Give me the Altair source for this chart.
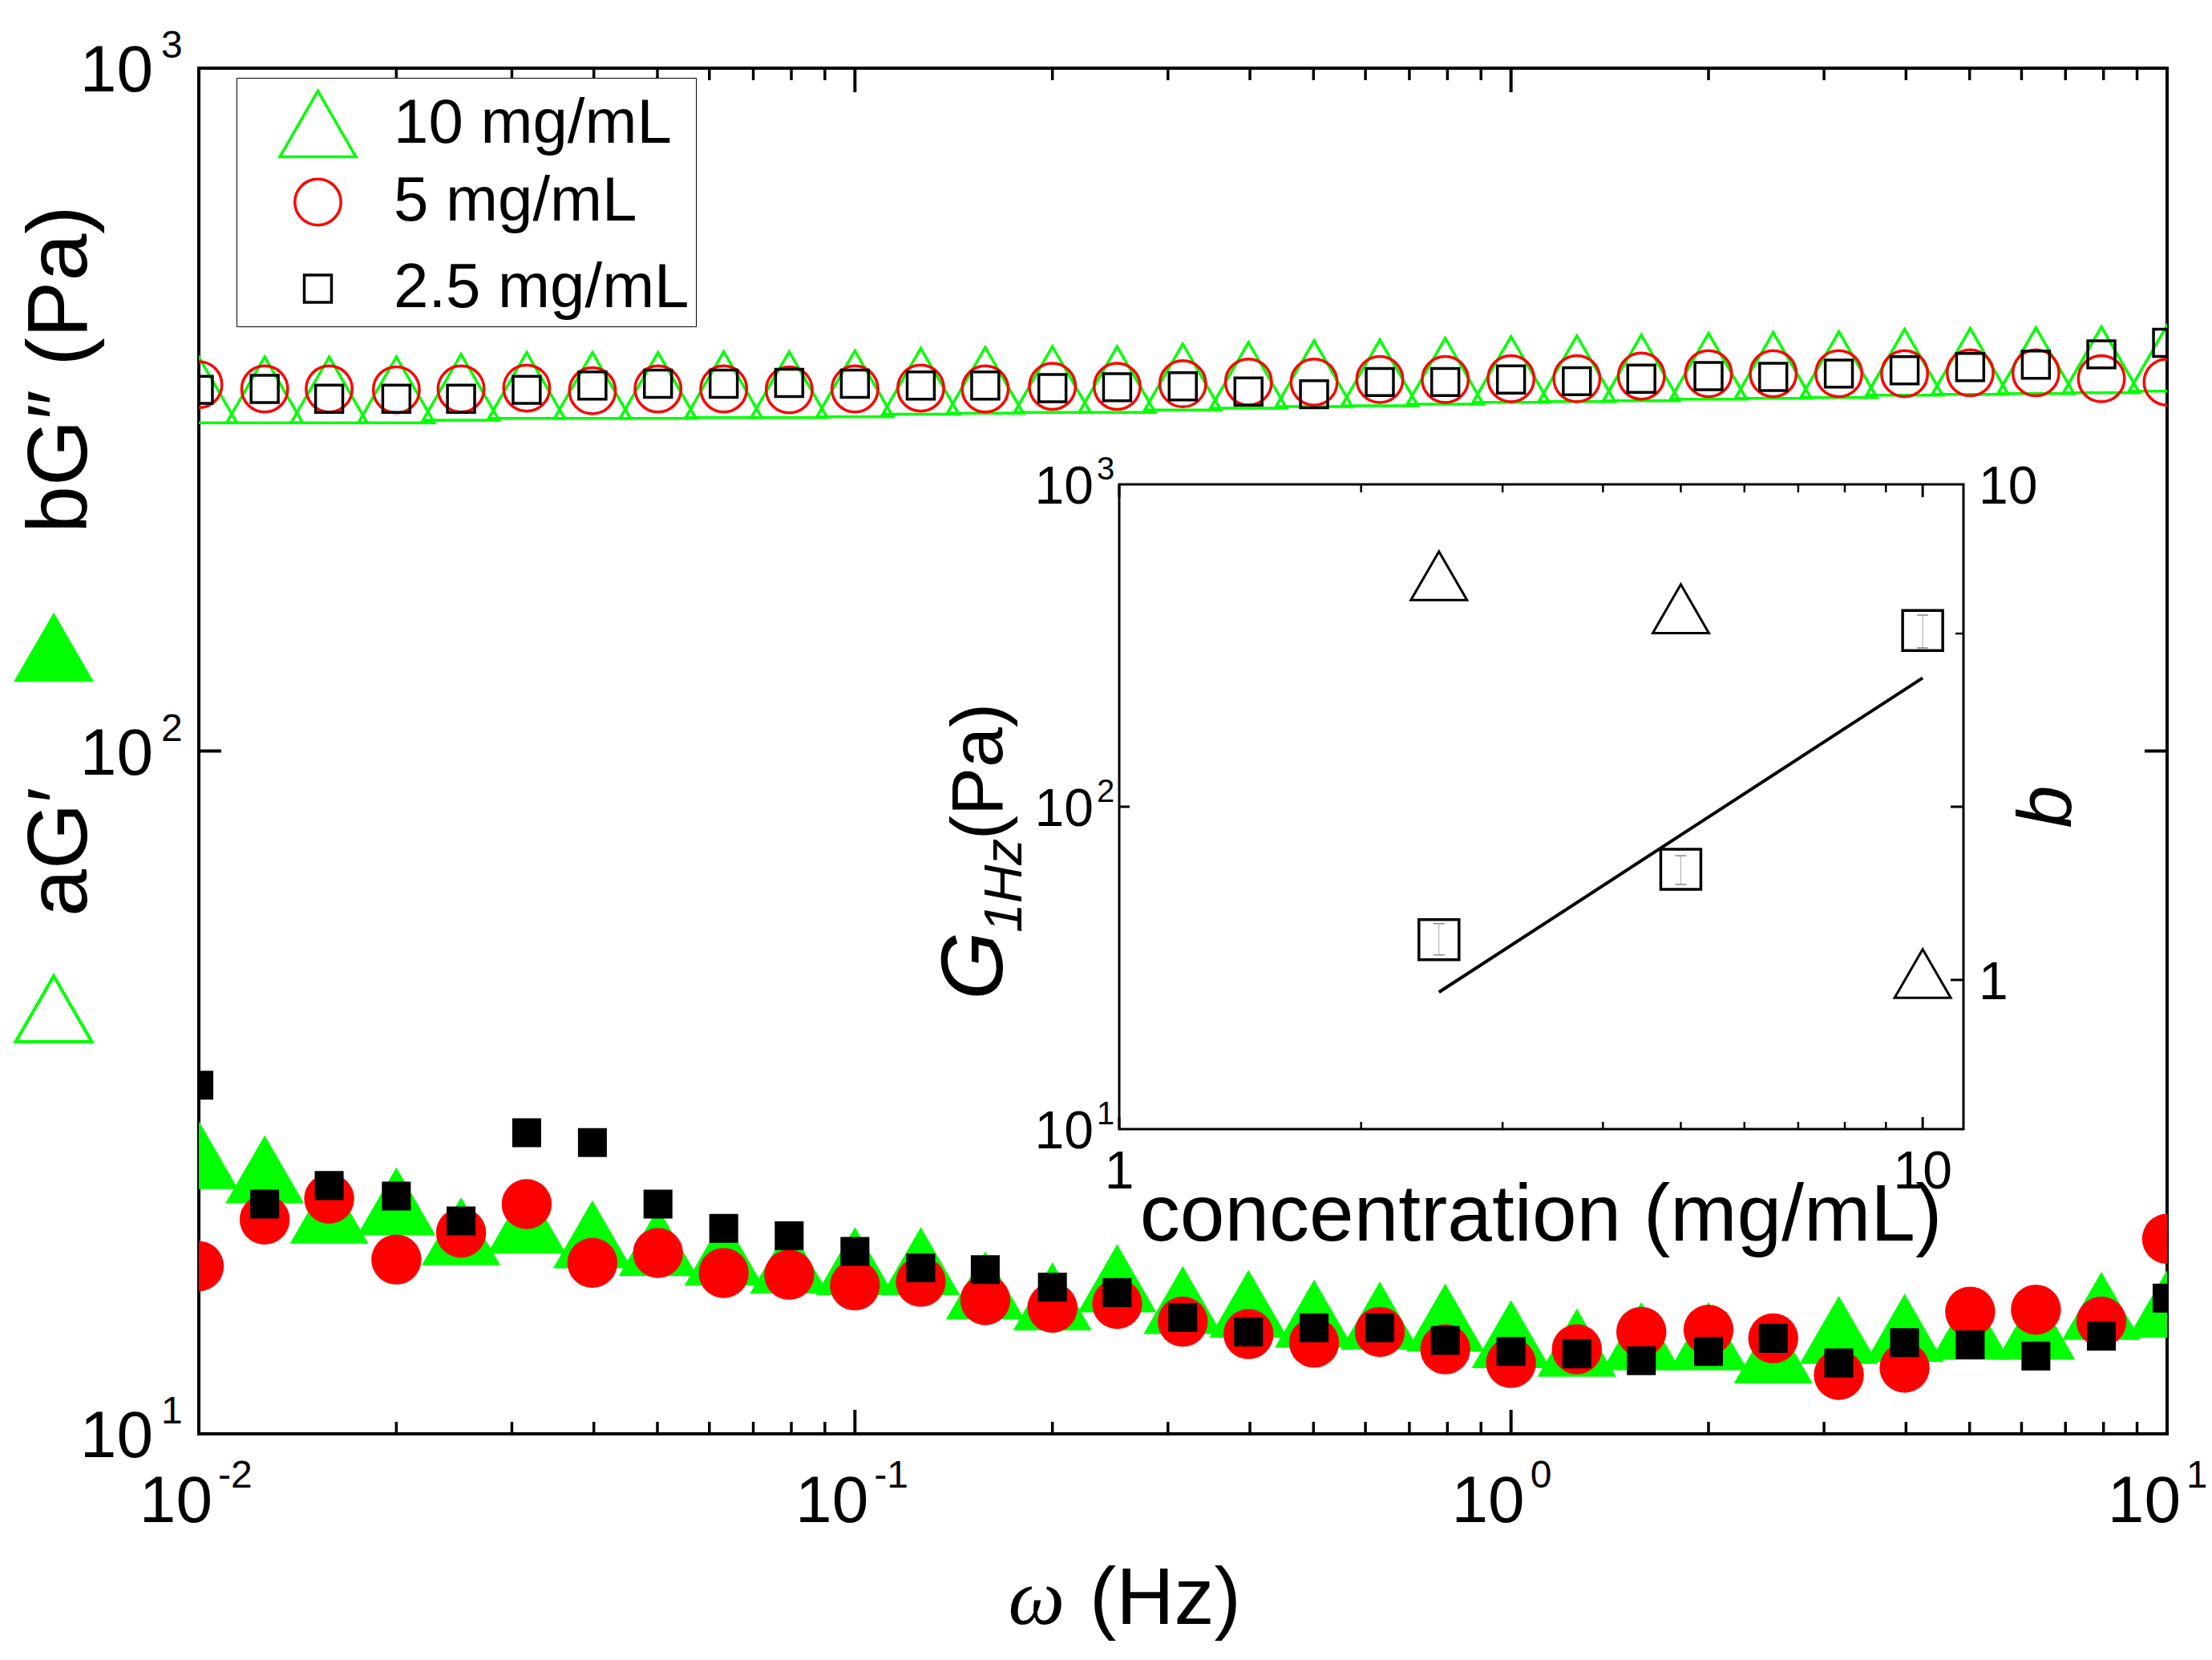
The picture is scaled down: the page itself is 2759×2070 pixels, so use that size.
import altair as alt
import pandas as pd

# ---------------- data ----------------
freq = [0.01, 0.0126, 0.0158, 0.02, 0.0251, 0.0316, 0.0398, 0.0501, 0.0631, 0.0794,
        0.1, 0.126, 0.158, 0.2, 0.251, 0.316, 0.398, 0.501, 0.631, 0.794,
        1.0, 1.26, 1.58, 2.0, 2.51, 3.16, 3.98, 5.01, 6.31, 7.94, 10.0]

# b*G'' (open symbols)
gpp_10 = [338, 338, 338, 338, 341, 343, 343, 343, 344, 344, 345, 348, 349, 350, 350, 353,
          355, 357, 358, 360, 362, 363, 364, 366, 367, 368, 371, 372, 373, 374, 376]
gpp_5 = [344, 339, 339, 338, 339, 340, 337, 339, 339, 338, 339, 340, 339, 342, 342, 345,
         347, 347, 350, 350, 351, 351, 354, 357, 357, 357, 357, 358, 358, 351, 347]
gpp_25 = [338, 339, 328, 328, 328, 338, 343, 345, 345, 346, 345, 343, 343, 340, 341, 342,
          336, 333, 347, 347, 350, 348, 351, 354, 353, 357, 361, 365, 368, 381, 396]

# a*G' (filled symbols)
gp_10 = [25.6, 24.4, 21.3, 21.9, 19.8, 20.6, 19.6, 19.1, 18.5, 18.0, 17.9, 17.9, 16.5, 15.9,
         16.9, 15.7, 15.5, 15.0, 14.9, 14.8, 14.0, 13.6, 13.9, 13.9, 13.3, 14.2, 14.3, 14.4,
         14.4, 15.4, 15.5]
gp_5 = [17.6, 20.6, 22.1, 18.0, 19.7, 21.7, 17.8, 18.4, 17.2, 17.1, 16.5, 16.7, 15.7, 15.3,
        15.5, 14.6, 14.0, 13.6, 14.1, 13.3, 12.7, 13.3, 14.1, 14.2, 13.8, 12.2, 12.5, 15.1,
        15.2, 14.6, 19.3]
gp_25 = [32.4, 21.7, 23.1, 22.3, 20.5, 27.6, 26.7, 21.7, 20.0, 19.5, 18.5, 17.5, 17.4, 16.4,
         16.1, 14.8, 14.1, 14.3, 14.3, 13.7, 13.2, 13.1, 12.8, 13.2, 13.8, 12.7, 13.6, 13.5,
         13.0, 13.9, 15.8]

labels = ["10 mg/mL", "5 mg/mL", "2.5 mg/mL"]
colors = ["#00ff00", "#ff0000", "#000000"]
shapes = ["triangle-up", "circle", "square"]

# inset
conc = [2.5, 5, 10]
g1hz = [38.7, 64, 352]
g1hz_lo = [34.7, 57.4, 311]
g1hz_hi = [43.4, 70.5, 393]
b_vals = [6.54, 5.61, 1.03]
fit_c = [2.5, 10]
fit_g = [26.6, 251]

# ticks
x_major = [0.01, 0.1, 1, 10]
x_exp = ["-2", "-1", "0", "1"]
x_minor = [0.02, 0.03, 0.04, 0.05, 0.06, 0.07, 0.08, 0.09,
           0.2, 0.3, 0.4, 0.5, 0.6, 0.7, 0.8, 0.9,
           2, 3, 4, 5, 6, 7, 8, 9]
y_major = [10, 100, 1000]
y_exp = ["1", "2", "3"]
ix_major = [1, 10]
ix_minor = [2, 3, 4, 5, 6, 7, 8, 9]
ix_labels = ["1", "10"]
b_labels_v = [10, 1]
b_labels = ["10", "1"]

# ---------------- layout ----------------
W, H = 2455, 1703
IX0, IX1 = 1148, 2201
IY0, IY1 = 519, 1323
FONT = "Liberation Sans"

xs = alt.Scale(type="log", domain=[0.01, 10], nice=False)
ys = alt.Scale(type="log", domain=[10, 1000], nice=False)
ixs = alt.Scale(type="log", domain=[1, 11.24], range=[IX0, IX1], nice=False)
igs = alt.Scale(type="log", domain=[10, 1000], range=[IY1, IY0], nice=False)
ibs = alt.Scale(type="log", domain=[0.5, 10], range=[IY1, IY0], nice=False)

one = pd.DataFrame({"k": [0]})


def txt(text, x, y, size, **kw):
    opts = dict(font=FONT, fontSize=size, color="black", baseline="alphabetic")
    opts.update(kw)
    return alt.Chart(one).mark_text(text=text, **opts).encode(x=alt.value(x), y=alt.value(y))


# ---------------- main panel ----------------
leg = alt.Legend(orient="none", legendX=47, legendY=12, title=None, labelFont=FONT,
                 labelFontSize=78, labelLimit=800, symbolStrokeWidth=3.5, padding=8,
                 rowPadding=10, symbolOffset=44, labelOffset=45, strokeColor="black",
                 fillColor="white", gridAlign="all")

upper_df = pd.DataFrame({
    "f": freq * 3,
    "v": gpp_10 + gpp_5 + gpp_25,
    "conc": [labels[0]] * len(freq) + [labels[1]] * len(freq) + [labels[2]] * len(freq),
})
upper = alt.Chart(upper_df).mark_point(filled=False, strokeWidth=3.5, opacity=1, clip=True).encode(
    x=alt.X("f:Q", scale=xs, axis=None),
    y=alt.Y("v:Q", scale=ys, axis=None),
    color=alt.Color("conc:N", scale=alt.Scale(domain=labels, range=colors), legend=leg),
    shape=alt.Shape("conc:N", scale=alt.Scale(domain=labels, range=shapes), legend=leg),
    size=alt.Size("conc:N", scale=alt.Scale(type="ordinal", domain=labels, range=[9000, 3300, 1150]),
                  legend=leg),
)


def lower(vals, shape, color, size):
    df = pd.DataFrame({"f": freq, "v": vals})
    return alt.Chart(df).mark_point(filled=True, shape=shape, color=color, size=size,
                                    opacity=1, strokeWidth=0, clip=True).encode(
        x=alt.X("f:Q", scale=xs, axis=None),
        y=alt.Y("v:Q", scale=ys, axis=None),
    )


low_tri = lower(gp_10, "triangle-up", colors[0], 9600)
low_cir = lower(gp_5, "circle", colors[1], 3900)
low_sq = lower(gp_25, "square", colors[2], 1300)


def xticks(vals, scale, y0, y1, sw):
    return alt.Chart(pd.DataFrame({"t": vals})).mark_rule(color="black", strokeWidth=sw).encode(
        x=alt.X("t:Q", scale=scale, axis=None), y=alt.value(y0), y2=alt.value(y1))


def yticks(vals, scale, x0, x1, sw):
    return alt.Chart(pd.DataFrame({"t": vals})).mark_rule(color="black", strokeWidth=sw).encode(
        y=alt.Y("t:Q", scale=scale, axis=None), x=alt.value(x0), x2=alt.value(x1))


main_ticks = [
    xticks(x_major, xs, H, H - 30, 4),
    xticks(x_minor, xs, H, H - 15, 3.5),
    xticks(x_major, xs, 0, 30, 4),
    xticks(x_minor, xs, 0, 15, 3.5),
    yticks(y_major, ys, 0, 28, 4),
    yticks(y_major, ys, W, W - 28, 4),
]

xlab_df = pd.DataFrame({"t": x_major, "e": x_exp})
xlab_base = alt.Chart(xlab_df).mark_text(font=FONT, fontSize=82, align="right", baseline="alphabetic",
                                         dx=17).encode(
    x=alt.X("t:Q", scale=xs, axis=None), y=alt.value(1813), text=alt.value("10"))
xlab_exp = alt.Chart(xlab_df).mark_text(font=FONT, fontSize=48, align="left", baseline="alphabetic",
                                        dx=24).encode(
    x=alt.X("t:Q", scale=xs, axis=None), y=alt.value(1770), text="e:N")

ylab_df = pd.DataFrame({"t": y_major, "e": y_exp})
ylab_base = alt.Chart(ylab_df).mark_text(font=FONT, fontSize=82, align="right", baseline="alphabetic",
                                         dy=29).encode(
    y=alt.Y("t:Q", scale=ys, axis=None), x=alt.value(-57), text=alt.value("10"))
ylab_exp = alt.Chart(ylab_df).mark_text(font=FONT, fontSize=48, align="left", baseline="alphabetic",
                                        dy=-13).encode(
    y=alt.Y("t:Q", scale=ys, axis=None), x=alt.value(-47), text="e:N")

# axis titles
title_parts = [
    txt("bG″ (Pa)", -140, 580, 106, angle=270, align="left"),
    txt("aG′", -140, 1058, 106, angle=270, align="left"),
    alt.Chart(one).mark_point(shape="triangle-up", filled=True, color=colors[0], size=10000,
                              opacity=1, strokeWidth=0).encode(x=alt.value(-181), y=alt.value(722)),
    alt.Chart(one).mark_point(shape="triangle-up", filled=False, color=colors[0], size=9000,
                              opacity=1, strokeWidth=4).encode(x=alt.value(-181), y=alt.value(1173)),
    txt("ω", 1080, 1940, 100, font="Liberation Serif", fontStyle="italic", align="right"),
    txt("(Hz)", 1111, 1940, 100, align="left"),
]

main = alt.layer(upper, low_tri, low_cir, low_sq, *main_ticks, xlab_base, xlab_exp,
                 ylab_base, ylab_exp, *title_parts)

# ---------------- inset ----------------
frame = alt.Chart(pd.DataFrame({"x0": [1], "x1": [11.24], "y0": [10], "y1": [1000]})).mark_rect(
    fill="white", stroke="black", strokeWidth=3).encode(
    x=alt.X("x0:Q", scale=ixs, axis=None), x2="x1:Q",
    y=alt.Y("y0:Q", scale=igs, axis=None), y2="y1:Q")

ins_df = pd.DataFrame({"c": conc, "g": g1hz, "lo": g1hz_lo, "hi": g1hz_hi, "b": b_vals})
ix = alt.X("c:Q", scale=ixs, axis=None)

sq = alt.Chart(ins_df).mark_point(shape="square", filled=False, color="black", strokeWidth=3.5,
                                  size=2500, opacity=1).encode(x=ix, y=alt.Y("g:Q", scale=igs, axis=None))
err = alt.Chart(ins_df).mark_rule(color="#aaaaaa", strokeWidth=1).encode(
    x=ix, y=alt.Y("lo:Q", scale=igs, axis=None), y2="hi:Q")
cap_lo = alt.Chart(ins_df).mark_point(shape="stroke", color="#888888", strokeWidth=1.5, size=196,
                                      opacity=1).encode(x=ix, y=alt.Y("lo:Q", scale=igs, axis=None))
cap_hi = alt.Chart(ins_df).mark_point(shape="stroke", color="#888888", strokeWidth=1.5, size=196,
                                      opacity=1).encode(x=ix, y=alt.Y("hi:Q", scale=igs, axis=None))
fit = alt.Chart(pd.DataFrame({"c": fit_c, "g": fit_g})).mark_line(color="black", strokeWidth=4).encode(
    x=ix, y=alt.Y("g:Q", scale=igs, axis=None))

ins_ticks = [
    xticks(ix_major, ixs, IY1, IY1 - 15, 3),
    xticks(ix_minor, ixs, IY1, IY1 - 9, 2.5),
    xticks(ix_major, ixs, IY0, IY0 + 16, 3),
    xticks(ix_minor, ixs, IY0, IY0 + 10, 2.5),
    yticks([100], igs, IX0, IX0 + 13, 3),
    yticks([100], igs, IX1, IX1 - 16, 3),
]

iylab_df = pd.DataFrame({"t": y_major, "e": y_exp})
iylab_base = alt.Chart(iylab_df).mark_text(font=FONT, fontSize=66, align="right", baseline="alphabetic",
                                           dy=24).encode(
    y=alt.Y("t:Q", scale=igs, axis=None), x=alt.value(IX0 - 32), text=alt.value("10"))
iylab_exp = alt.Chart(iylab_df).mark_text(font=FONT, fontSize=40, align="left", baseline="alphabetic",
                                          dy=-6).encode(
    y=alt.Y("t:Q", scale=igs, axis=None), x=alt.value(IX0 - 28), text="e:N")
ixlab = alt.Chart(pd.DataFrame({"t": ix_major, "l": ix_labels})).mark_text(
    font=FONT, fontSize=66, align="center", baseline="alphabetic").encode(
    x=alt.X("t:Q", scale=ixs, axis=None), y=alt.value(1397), text="l:N")

ins_titles = [
    txt("concentration (mg/mL)", 1674, 1462, 100, align="center"),
    txt("G", 1002, 1162, 110, angle=270, align="left", fontStyle="italic"),
    txt("1Hz", 1026, 1078, 66, angle=270, align="left", fontStyle="italic"),
    txt("(Pa)", 1002, 962, 90, angle=270, align="left"),
]

g_group = alt.layer(frame, err, cap_lo, cap_hi, sq, fit, *ins_ticks, iylab_base, iylab_exp, ixlab,
                    *ins_titles)

tri = alt.Chart(ins_df).mark_point(shape="triangle-up", filled=False, color="black", strokeWidth=3,
                                   size=4900, opacity=1).encode(
    x=ix, y=alt.Y("b:Q", scale=ibs, axis=None))
b_ticks = [
    yticks([1], ibs, IX1, IX1 - 16, 3),
    yticks([5], ibs, IX1, IX1 - 10, 2.5),
]
blab = alt.Chart(pd.DataFrame({"t": b_labels_v, "l": b_labels})).mark_text(
    font=FONT, fontSize=66, align="left", baseline="alphabetic", dy=24).encode(
    y=alt.Y("t:Q", scale=ibs, axis=None), x=alt.value(IX1 + 19), text="l:N")
b_title = txt("b", 2335, 921, 95, angle=270, align="center", fontStyle="italic")

b_group = alt.layer(tri, *b_ticks, blab, b_title)

inset = alt.layer(g_group, b_group).resolve_scale(y="independent")

chart = alt.layer(main, inset).resolve_scale(x="independent", y="independent").properties(
    width=W, height=H,
    autosize=alt.AutoSizeParams(type="none"),
    padding={"left": 240, "top": 77, "right": 48, "bottom": 274},
    background="white",
).configure_view(stroke="black", strokeWidth=4)

chart.save("out.html", embed_options={"renderer": "svg", "actions": False})
